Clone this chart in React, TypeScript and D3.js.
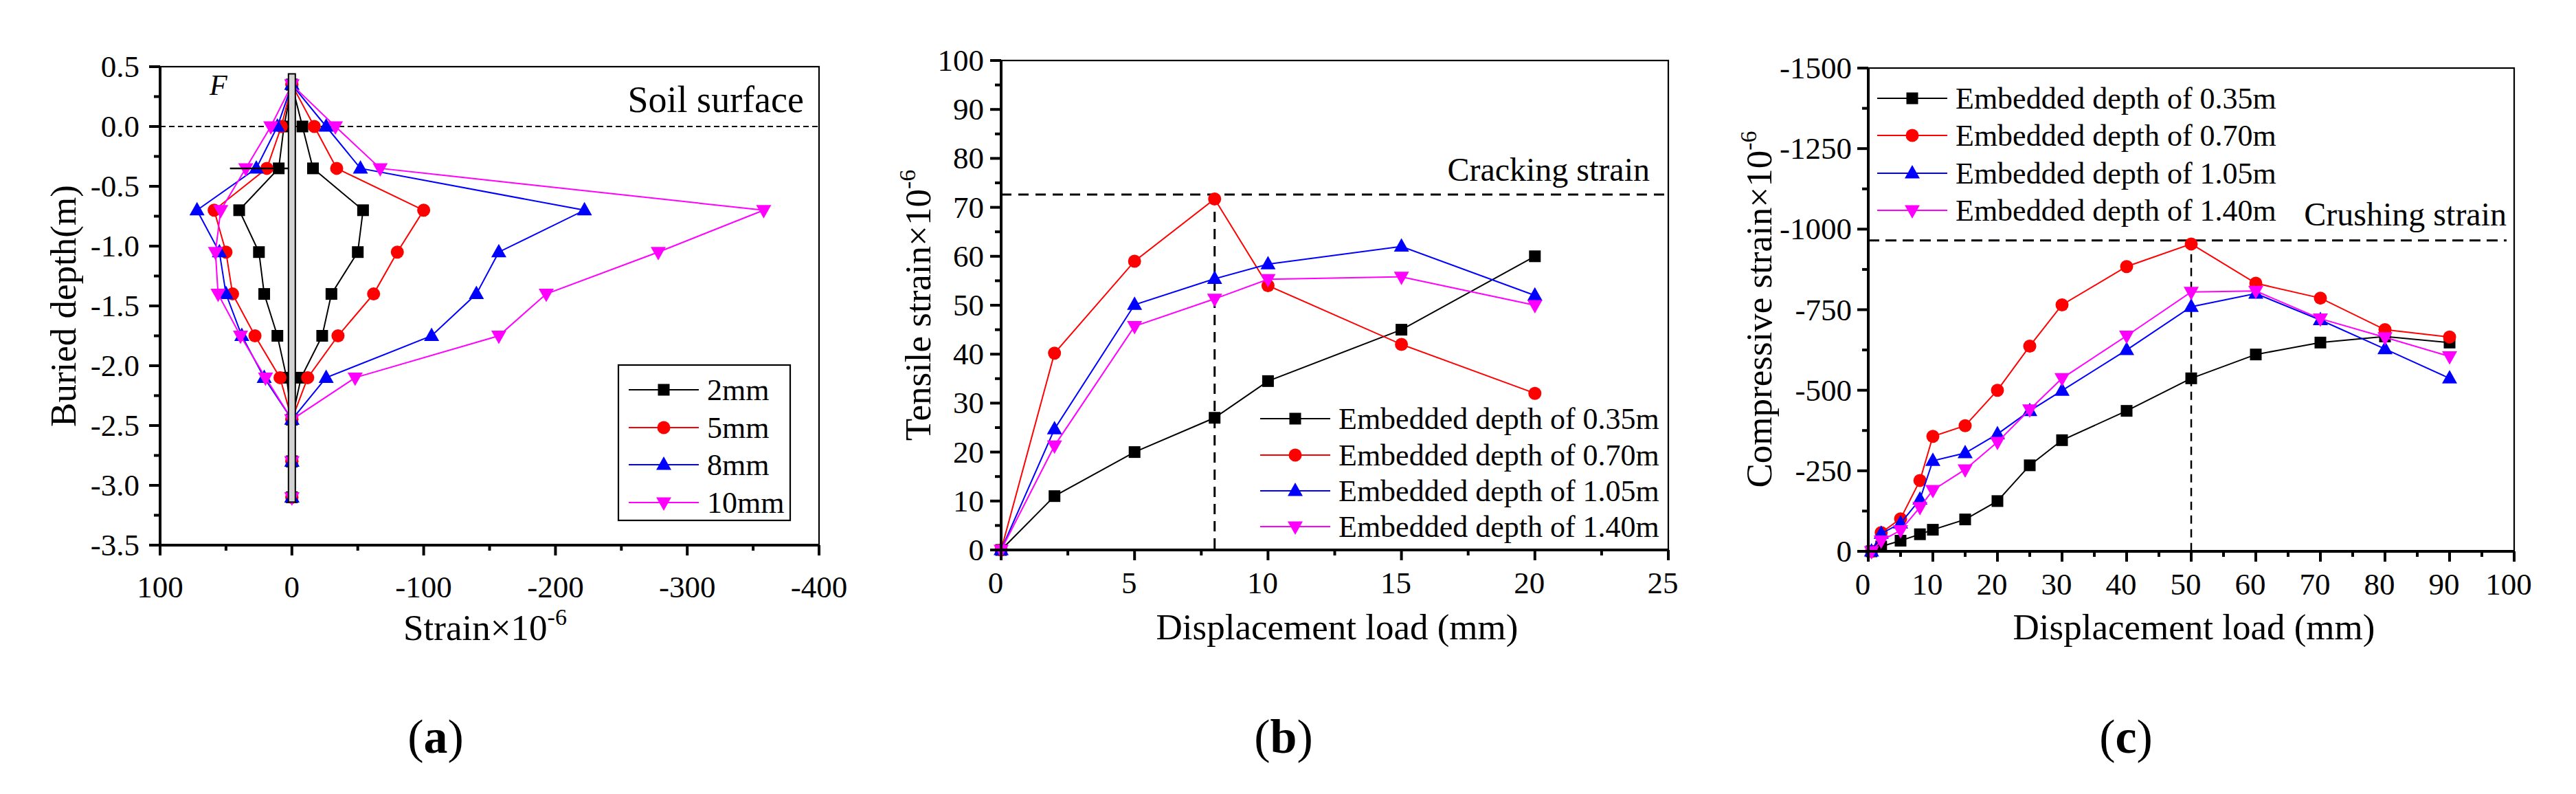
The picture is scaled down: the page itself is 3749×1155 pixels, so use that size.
import * as d3 from 'd3';
import React from 'react';

const FONT = '"Liberation Serif", "Times New Roman", serif';
const COLORS = ['#000000', '#ff0000', '#0000ff', '#ff00ff'];
const SHAPES = ['square', 'circle', 'up', 'down'];

// (a) strain along the pile
const depthA = [0.35, 0, -0.35, -0.7, -1.05, -1.4, -1.75, -2.1, -2.45, -2.8, -3.1];
const loadsA = ['2mm', '5mm', '8mm', '10mm'];
const tensile2 = [0, 6, 10, 40, 25, 21, 11, 4, 0, 0, 0];
const tensile5 = [0, 8, 19, 59, 50, 45, 28, 9, 0, 0, 0];
const tensile8 = [0, 11, 27, 72, 55, 50, 38, 21, 0, 0, 0];
const tensile10 = [0, 16, 35, 54, 58, 56, 39, 20, 0, 0, 0];
const compress2 = [0, -8, -16, -54, -50, -30, -23, -7, 0, 0, 0];
const compress5 = [0, -17, -34, -100, -80, -62, -35, -12, 0, 0, 0];
const compress8 = [0, -26, -52, -222, -157, -140, -106, -26, 0, 0, 0];
const compress10 = [0, -33, -67, -358, -278, -193, -157, -48, 0, 0, 0];
const xTicksA = [100, 0, -100, -200, -300, -400];
const yTicksA = [0.5, 0, -0.5, -1, -1.5, -2, -2.5, -3, -3.5];
const pileA = { top: 0.44, bottom: -3.14 };
const forceA = { from: 47, depth: -0.35 };

// (b) tensile strain
const depthNames = ['Embedded depth of 0.35m', 'Embedded depth of 0.70m', 'Embedded depth of 1.05m', 'Embedded depth of 1.40m'];
const loadB = [0, 2, 5, 8, 10, 15, 20];
const tens035 = [0, 11, 20, 27, 34.5, 45, 60];
const tens070 = [0, 40.2, 59, 71.7, 54, 42, 32];
const tens105 = [0, 24.7, 50.1, 55.4, 58.4, 62, 52];
const tens140 = [0, 21.3, 45.7, 51.3, 55.3, 55.8, 50];
const xTicksB = [0, 5, 10, 15, 20, 25];
const yTicksB = [0, 10, 20, 30, 40, 50, 60, 70, 80, 90, 100];
const crackingStrain = 72.6;
const crackingLoad = 8;

// (c) compressive strain
const loadC = [0.5, 2, 5, 8, 10, 15, 20, 25, 30, 40, 50, 60, 70, 80, 90];
const comp035 = [0, -15, -33, -53, -67, -99, -156, -267, -345, -436, -537, -611, -648, -667, -648];
const comp070 = [0, -58, -101, -220, -357, -390, -500, -637, -765, -884, -954, -832, -786, -688, -665];
const comp105 = [0, -55, -87, -161, -281, -305, -364, -436, -499, -625, -759, -800, -718, -628, -537];
const comp140 = [0, -33, -65, -137, -190, -254, -339, -440, -537, -669, -805, -808, -722, -664, -605];
const xTicksC = [0, 10, 20, 30, 40, 50, 60, 70, 80, 90, 100];
const yTicksC = [0, -250, -500, -750, -1000, -1250, -1500];
const crushingStrain = -965;
const crushingLoad = 50;

function Marker({ shape, x, y, color }: { shape: string; x: number; y: number; color: string }) {
  if (shape === 'square') return <rect x={x - 8.5} y={y - 8.5} width={17} height={17} fill={color} />;
  if (shape === 'circle') return <circle cx={x} cy={y} r={9.5} fill={color} />;
  if (shape === 'up')
    return <polygon points={`${x},${y - 12} ${x + 11},${y + 7.5} ${x - 11},${y + 7.5}`} fill={color} />;
  return <polygon points={`${x},${y + 12} ${x + 11},${y - 7.5} ${x - 11},${y - 7.5}`} fill={color} />;
}

function Frame({ x, y, xMajor, yMajor, xFmt, yFmt, xLabelDy, xLabelDx, yLabelGap }: any) {
  const [xa, xb] = x.range();
  const [yb, yt] = y.range();
  const xMinor = xMajor.slice(1).map((v: number, i: number) => (v + xMajor[i]) / 2);
  const yMinor = yMajor.slice(1).map((v: number, i: number) => (v + yMajor[i]) / 2);
  return (
    <g>
      <rect x={xa} y={yt} width={xb - xa} height={yb - yt} fill="none" stroke="#000" strokeWidth={2.2} />
      <line x1={xa} x2={xa} y1={yt} y2={yb} stroke="#000" strokeWidth={4} />
      <line x1={xa - 16} x2={xb} y1={yb} y2={yb} stroke="#000" strokeWidth={4} />
      {xMajor.map((v: number) => (
        <g key={'xM' + v}>
          <line x1={x(v)} x2={x(v)} y1={yb} y2={yb + 15} stroke="#000" strokeWidth={4} />
          <text x={x(v) + xLabelDx} y={yb + xLabelDy} textAnchor="middle" fontSize={45} fontFamily={FONT}>
            {xFmt(v)}
          </text>
        </g>
      ))}
      {xMinor.map((v: number) => (
        <line key={'xm' + v} x1={x(v)} x2={x(v)} y1={yb} y2={yb + 8} stroke="#000" strokeWidth={4} />
      ))}
      {yMajor.map((v: number) => (
        <g key={'yM' + v}>
          <line x1={xa - 16} x2={xa} y1={y(v)} y2={y(v)} stroke="#000" strokeWidth={4} />
          <text x={xa - yLabelGap} y={y(v) + 15} textAnchor="end" fontSize={45} fontFamily={FONT}>
            {yFmt(v)}
          </text>
        </g>
      ))}
      {yMinor.map((v: number) => (
        <line key={'ym' + v} x1={xa - 9} x2={xa} y1={y(v)} y2={y(v)} stroke="#000" strokeWidth={4} />
      ))}
    </g>
  );
}

function Legend({ names, x0, rows, box }: { names: string[]; x0: number; rows: number[]; box?: number[] }) {
  return (
    <g>
      {box && <rect x={box[0]} y={box[1]} width={box[2]} height={box[3]} fill="#fff" stroke="#000" strokeWidth={2.2} />}
      {names.map((n, i) => (
        <g key={n}>
          <line x1={x0} x2={x0 + 102} y1={rows[i]} y2={rows[i]} stroke={COLORS[i]} strokeWidth={2} />
          <Marker shape={SHAPES[i]} x={x0 + 51} y={rows[i]} color={COLORS[i]} />
          <text x={x0 + 114} y={rows[i] + 15} fontSize={44} fontFamily={FONT}>
            {n}
          </text>
        </g>
      ))}
    </g>
  );
}

function Series({ xs, ys, x, y, i }: any) {
  const line = d3
    .line<number>()
    .x((_, k) => x(xs[k]))
    .y((d) => y(d));
  return (
    <g>
      <path d={line(ys) || ''} fill="none" stroke={COLORS[i]} strokeWidth={2} />
      {ys.map((d: number, k: number) => (
        <Marker key={k} shape={SHAPES[i]} x={x(xs[k])} y={y(d)} color={COLORS[i]} />
      ))}
    </g>
  );
}

function PanelA() {
  const x = d3.scaleLinear().domain([100, -400]).range([233, 1192]);
  const y = d3.scaleLinear().domain([-3.5, 0.5]).range([793, 97]);
  const tensile = [tensile2, tensile5, tensile8, tensile10];
  const compress = [compress2, compress5, compress8, compress10];
  const lineV = d3
    .line<number>()
    .x((d) => x(d))
    .y((_, k) => y(depthA[k]));
  return (
    <g>
      <line x1={233} x2={1192} y1={y(0)} y2={y(0)} stroke="#000" strokeWidth={2} strokeDasharray="8 5" />
      {tensile.map((t, i) => (
        <g key={i}>
          <path d={lineV(t) || ''} fill="none" stroke={COLORS[i]} strokeWidth={2} />
          <path d={lineV(compress[i]) || ''} fill="none" stroke={COLORS[i]} strokeWidth={2} />
          {t.concat(compress[i]).map((v, k) => (
            <Marker key={k} shape={SHAPES[i]} x={x(v)} y={y(depthA[k % depthA.length])} color={COLORS[i]} />
          ))}
        </g>
      ))}
      <line x1={x(forceA.from)} x2={x(0)} y1={y(forceA.depth)} y2={y(forceA.depth)} stroke="#000" strokeWidth={2.5} />
      <rect
        x={x(0) - 5}
        y={y(pileA.top)}
        width={10}
        height={y(pileA.bottom) - y(pileA.top)}
        fill="#d3d3d3"
        stroke="#000"
        strokeWidth={2}
      />
      <Frame
        x={x}
        y={y}
        xMajor={xTicksA}
        yMajor={yTicksA}
        xFmt={(v: number) => String(v)}
        yFmt={(v: number) => v.toFixed(1)}
        xLabelDy={76}
        xLabelDx={0}
        yLabelGap={30}
      />
      <text x={305} y={138} fontSize={42} fontStyle="italic" fontFamily={FONT}>
        F
      </text>
      <text x={1170} y={163} textAnchor="end" fontSize={54} fontFamily={FONT}>
        Soil surface
      </text>
      <Legend names={loadsA} x0={915} rows={[567, 622, 676, 731]} box={[900, 531, 250, 226]} />
      <text transform="translate(110,445) rotate(-90)" textAnchor="middle" fontSize={53} fontFamily={FONT}>
        Buried depth(m)
      </text>
      <text x={706} y={931} textAnchor="middle" fontSize={53} fontFamily={FONT}>
        Strain×10
        <tspan fontSize={34} dy={-22}>
          -6
        </tspan>
      </text>
    </g>
  );
}

function PanelB() {
  const x = d3.scaleLinear().domain([0, 25]).range([1457, 2428]);
  const y = d3.scaleLinear().domain([0, 100]).range([800, 88]);
  const series = [tens035, tens070, tens105, tens140];
  return (
    <g>
      <line x1={x(0)} x2={x(25)} y1={y(crackingStrain)} y2={y(crackingStrain)} stroke="#000" strokeWidth={3} strokeDasharray="15 10" />
      <line x1={x(crackingLoad)} x2={x(crackingLoad)} y1={y(crackingStrain)} y2={y(0)} stroke="#000" strokeWidth={3} strokeDasharray="15 10" />
      {series.map((s, i) => (
        <Series key={i} xs={loadB} ys={s} x={x} y={y} i={i} />
      ))}
      <Frame
        x={x}
        y={y}
        xMajor={xTicksB}
        yMajor={yTicksB}
        xFmt={(v: number) => String(v)}
        yFmt={(v: number) => String(v)}
        xLabelDy={63}
        xLabelDx={-8}
        yLabelGap={25}
      />
      <text x={2401} y={263} textAnchor="end" fontSize={48} fontFamily={FONT}>
        Cracking strain
      </text>
      <Legend names={depthNames} x0={1834} rows={[609, 662, 714, 766]} />
      <text transform="translate(1354,444) rotate(-90)" textAnchor="middle" fontSize={53} fontFamily={FONT}>
        Tensile strain×10
        <tspan fontSize={34} dy={-22}>
          -6
        </tspan>
      </text>
      <text x={1946} y={930} textAnchor="middle" fontSize={53} fontFamily={FONT}>
        Displacement load (mm)
      </text>
    </g>
  );
}

function PanelC() {
  const x = d3.scaleLinear().domain([0, 100]).range([2719, 3659]);
  const y = d3.scaleLinear().domain([0, -1500]).range([802, 99]);
  const series = [comp035, comp070, comp105, comp140];
  return (
    <g>
      <line x1={x(0)} x2={3648} y1={y(crushingStrain)} y2={y(crushingStrain)} stroke="#000" strokeWidth={3} strokeDasharray="16 9" />
      <line x1={x(crushingLoad)} x2={x(crushingLoad)} y1={y(crushingStrain)} y2={y(0)} stroke="#000" strokeWidth={2.5} strokeDasharray="12 8" />
      {series.map((s, i) => (
        <Series key={i} xs={loadC} ys={s} x={x} y={y} i={i} />
      ))}
      <Frame
        x={x}
        y={y}
        xMajor={xTicksC}
        yMajor={yTicksC}
        xFmt={(v: number) => String(v)}
        yFmt={(v: number) => String(v)}
        xLabelDy={63}
        xLabelDx={-8}
        yLabelGap={24}
      />
      <text x={3648} y={328} textAnchor="end" fontSize={48} fontFamily={FONT}>
        Crushing strain
      </text>
      <Legend names={depthNames} x0={2732} rows={[143, 197, 252, 306]} />
      <text transform="translate(2578,450) rotate(-90)" textAnchor="middle" fontSize={53} fontFamily={FONT}>
        Compressive strain×10
        <tspan fontSize={34} dy={-22}>
          -6
        </tspan>
      </text>
      <text x={3193} y={930} textAnchor="middle" fontSize={53} fontFamily={FONT}>
        Displacement load (mm)
      </text>
    </g>
  );
}

function PanelLabel({ x, letter }: { x: number; letter: string }) {
  return (
    <text x={x} y={1095} textAnchor="middle" fontSize={70} fontFamily={FONT}>
      (<tspan fontWeight="bold">{letter}</tspan>)
    </text>
  );
}

export default function App() {
  return (
    <svg
      width={3749}
      height={1155}
      viewBox="0 0 3749 1155"
      style={{ position: 'absolute', left: 0, top: 0, background: '#fff' }}
    >
      <rect width={3749} height={1155} fill="#fff" />
      <PanelA />
      <PanelB />
      <PanelC />
      <PanelLabel x={634} letter="a" />
      <PanelLabel x={1868} letter="b" />
      <PanelLabel x={3094} letter="c" />
    </svg>
  );
}
